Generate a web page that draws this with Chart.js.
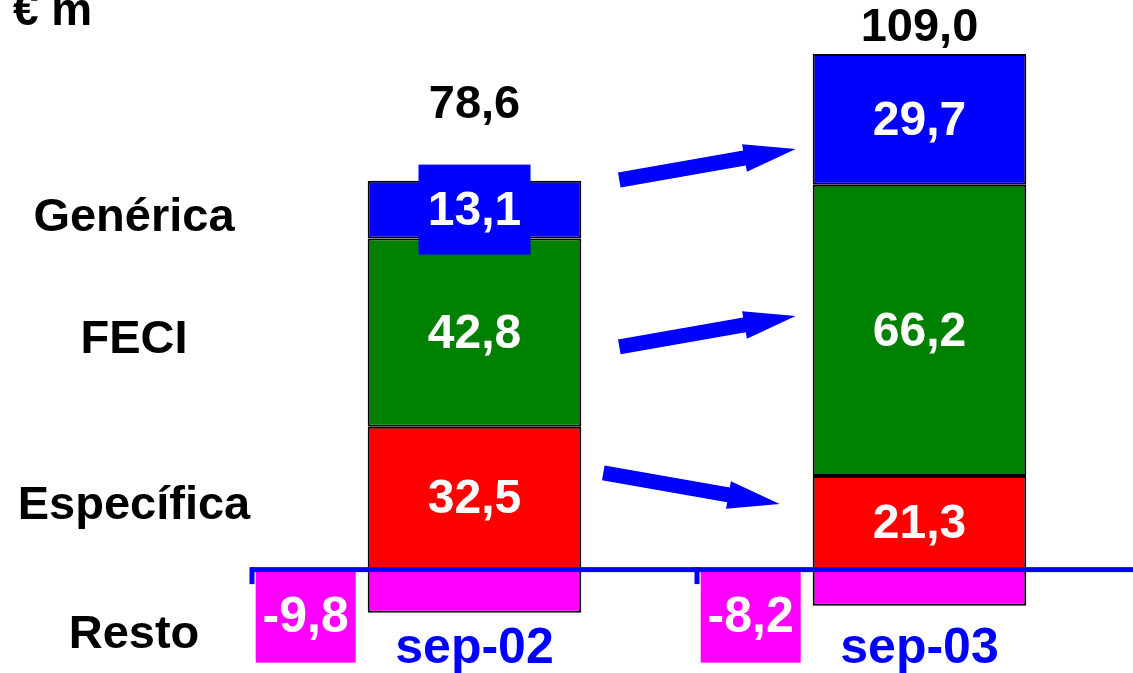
<!DOCTYPE html>
<html>
<head>
<meta charset="utf-8">
<script src="https://cdn.jsdelivr.net/npm/chart.js@4"></script>
<style>
  html, body { margin: 0; padding: 0; background: #fff; overflow: hidden; }
  #wrap { width: 1150px; height: 673px; }
</style>
</head>
<body>
<div id="wrap"><canvas id="chart" width="1150" height="673"></canvas></div>
<script>
    const categories = ['sep-02', 'sep-03'];
    const seriesNames = ['Específica', 'FECI', 'Genérica', 'Resto'];
    const especifica = [32.5, 21.3];
    const feci = [42.8, 66.2];
    const generica = [13.1, 29.7];
    const resto = [-9.8, -8.2];
    const unitLabel = '€ m';

    const FONT = '"Liberation Sans", Arial, sans-serif';
    const BLUE = '#0000ff';

    function fmt(v) {
        return v.toFixed(1).replace('.', ',');
    }

    function drawArrow(ctx, x1, y1, x2, y2) {
        const ang = Math.atan2(y2 - y1, x2 - x1);
        const len = Math.hypot(x2 - x1, y2 - y1);
        const head = 52, hw = 14, sw = 7.5;
        ctx.save();
        ctx.translate(x1, y1);
        ctx.rotate(ang);
        ctx.beginPath();
        ctx.moveTo(0, -sw);
        ctx.lineTo(len - head, -sw);
        ctx.lineTo(len - head, -hw);
        ctx.lineTo(len, 0);
        ctx.lineTo(len - head, hw);
        ctx.lineTo(len - head, sw);
        ctx.lineTo(0, sw);
        ctx.closePath();
        ctx.fillStyle = BLUE;
        ctx.fill();
        ctx.restore();
    }

    // labels, boxes, arrows and the zero line
    const annotations = {
        id: 'annotations',
        afterDatasetsDraw(chart) {
            const ctx = chart.ctx;
            const area = chart.chartArea;
            const xs = chart.scales.x;
            const ys = chart.scales.y;
            const zero = ys.getPixelForValue(0);
            const step = xs.getPixelForValue(1) - xs.getPixelForValue(0);
            const nPos = 3;
            const boxTops = [Infinity, Infinity];

            ctx.save();

            // arrows between the two columns
            for (let i = 0; i < nPos; i++) {
                const meta = chart.getDatasetMeta(i);
                const b0 = meta.data[0], b1 = meta.data[1];
                const c0 = (b0.y + b0.base) / 2;
                const c1 = (b1.y + b1.base) / 2;
                const shift = i === 0 ? -16 : 0;
                const mid = (c0 + c1) / 2 + (i === 0 ? -22 : 0);
                const dir = c1 < c0 ? -1 : 1;
                drawArrow(ctx,
                    b0.x + b0.width / 2 + 38 + shift, mid - dir * 15.5,
                    b1.x - b1.width / 2 - 17 + shift, mid + dir * 15.5);
            }

            // values inside the segments
            ctx.textAlign = 'center';
            ctx.textBaseline = 'middle';
            chart.data.datasets.forEach((ds, i) => {
                const meta = chart.getDatasetMeta(i);
                meta.data.forEach((bar, j) => {
                    const v = ds.data[j];
                    if (v >= 0) {
                        const c = (bar.y + bar.base) / 2;
                        const h = Math.abs(bar.base - bar.y);
                        if (h < 80) {
                            ctx.fillStyle = ds.backgroundColor;
                            ctx.fillRect(bar.x - 56, c - 45, 112, 90);
                            boxTops[j] = Math.min(boxTops[j], c - 45);
                        }
                        ctx.fillStyle = '#ffffff';
                        ctx.font = 'bold 48px ' + FONT;
                        ctx.fillText(fmt(v), bar.x, c + 2);
                    } else {
                        const left = bar.x - bar.width / 2 - 112;
                        ctx.fillStyle = ds.backgroundColor;
                        ctx.fillRect(left, zero + 2, 100, 91);
                        ctx.fillStyle = '#ffffff';
                        ctx.font = 'bold 50px ' + FONT;
                        ctx.fillText(fmt(v), left + 50, zero + 49);
                    }
                });
            });

            // totals above the columns
            ctx.fillStyle = '#000000';
            ctx.font = 'bold 47px ' + FONT;
            categories.forEach((c, j) => {
                let total = 0;
                chart.data.datasets.forEach(ds => { total += ds.data[j]; });
                const topBar = chart.getDatasetMeta(nPos - 1).data[j];
                let y;
                if (boxTops[j] < topBar.y) {
                    y = boxTops[j] - 60;
                } else {
                    y = topBar.y - 26;
                }
                ctx.fillText(fmt(total), topBar.x, y);
            });

            // zero line with category ticks
            ctx.fillStyle = BLUE;
            ctx.fillRect(area.left, zero - 2.5, chart.width - area.left, 5);
            categories.forEach((c, j) => {
                const bx = xs.getPixelForValue(j) - step / 2;
                ctx.fillRect(bx - 2.5, zero - 2.5, 5, 17);
            });

            // category labels
            ctx.textBaseline = 'alphabetic';
            ctx.font = 'bold 50px ' + FONT;
            categories.forEach((c, j) => {
                ctx.fillText(c, xs.getPixelForValue(j), chart.height - 10);
            });

            // series names on the left
            ctx.fillStyle = '#000000';
            ctx.font = 'bold 47px ' + FONT;
            ctx.textBaseline = 'middle';
            const lx = area.left - 118;
            for (let i = 0; i < nPos; i++) {
                const bar = chart.getDatasetMeta(i).data[0];
                ctx.fillText(seriesNames[i], lx, (bar.y + bar.base) / 2 + 8);
            }
            ctx.fillText(seriesNames[3], lx, chart.height - 38);

            // unit
            ctx.textAlign = 'left';
            ctx.textBaseline = 'alphabetic';
            ctx.font = 'bold 46px ' + FONT;
            ctx.fillText(unitLabel, 13, 25);

            ctx.restore();
        }
    };

    const data = {
        labels: categories,
        datasets: [
            { label: seriesNames[0], data: especifica, backgroundColor: '#ff0000' },
            { label: seriesNames[1], data: feci, backgroundColor: '#008000' },
            { label: seriesNames[2], data: generica, backgroundColor: '#0000ff' },
            { label: seriesNames[3], data: resto, backgroundColor: '#ff00ff' }
        ].map(ds => Object.assign(ds, {
            borderColor: '#000000',
            borderWidth: 2,
            borderSkipped: false,
            categoryPercentage: 1,
            barPercentage: 0.48
        }))
    };

    const chart = new Chart(document.getElementById('chart'), {
        type: 'bar',
        data: data,
        options: {
            responsive: false,
            animation: false,
            layout: { padding: { left: 252, right: 8, top: 0, bottom: 0 } },
            plugins: {
                legend: { display: false },
                tooltip: { enabled: false },
                title: { display: false }
            },
            scales: {
                x: { stacked: true, display: false },
                y: { stacked: true, display: false, min: -23.5, max: 129.5 }
            }
        },
        plugins: [annotations]
    });
</script>
</body>
</html>
